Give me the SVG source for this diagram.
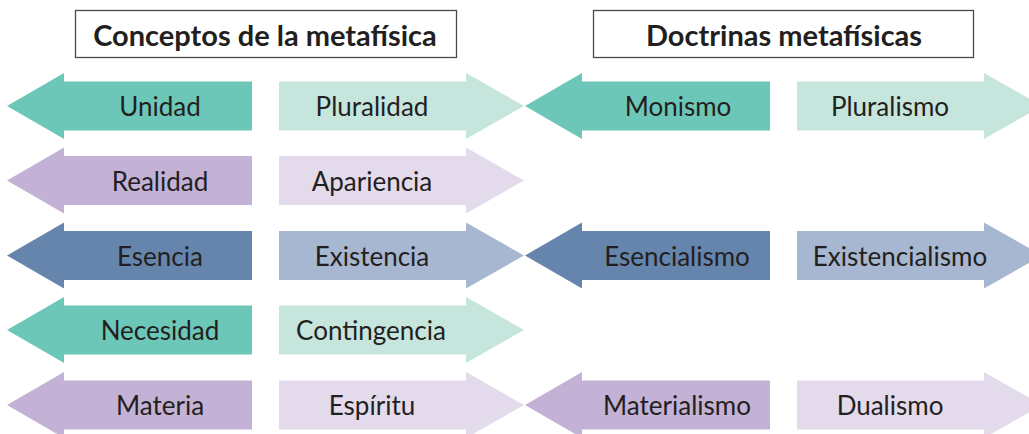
<svg xmlns="http://www.w3.org/2000/svg" width="1029" height="434" viewBox="0 0 1029 434">
<style>
.t{font-family:Lato,"Noto Sans",sans-serif;font-size:26px;fill:#231f20;text-anchor:middle;dominant-baseline:central}
.h{font-family:Lato,"Noto Sans",sans-serif;font-size:29px;font-weight:bold;fill:#231f20;text-anchor:middle;dominant-baseline:central}
.box{fill:#fff;stroke:#4a4a4a;stroke-width:1.3}
.tD{fill:#6dc7b9}.tL{fill:#c5e5dd}
.pD{fill:#c4b1d6}.pL{fill:#e3daec}
.bD{fill:#6585ad}.bL{fill:#a7b7d1}
</style>
<defs>
<path id="la" d="M7,0 L64,-33 L64,-24.5 L252,-24.5 L252,24.5 L64,24.5 L64,33 Z"/>
<path id="ra" d="M0,-24.5 L187,-24.5 L187,-33 L245,0 L187,33 L187,24.5 L0,24.5 Z"/>
</defs>
<g id="hdr1"><rect class="box" x="75.5" y="10.5" width="381" height="47"/><text class="h" x="265" y="34">Conceptos de la metafísica</text></g>
<g id="hdr2"><rect class="box" x="593.5" y="10.5" width="380" height="47"/><text class="h" x="784" y="34">Doctrinas metafísicas</text></g>

<g id="unidad" transform="translate(0,106)"><use href="#la" class="tD"/><text class="t" x="160" y="0">Unidad</text></g>
<g id="pluralidad" transform="translate(279,106)"><use href="#ra" class="tL"/><text class="t" x="93" y="0">Pluralidad</text></g>
<g id="monismo" transform="translate(518,106)"><use href="#la" class="tD"/><text class="t" x="160" y="0">Monismo</text></g>
<g id="pluralismo" transform="translate(797,106)"><use href="#ra" class="tL"/><text class="t" x="93" y="0">Pluralismo</text></g>

<g id="realidad" transform="translate(0,180.5)"><use href="#la" class="pD"/><text class="t" x="160" y="0">Realidad</text></g>
<g id="apariencia" transform="translate(279,180.5)"><use href="#ra" class="pL"/><text class="t" x="93" y="0">Apariencia</text></g>

<g id="esencia" transform="translate(0,255.5)"><use href="#la" class="bD"/><text class="t" x="160" y="0">Esencia</text></g>
<g id="existencia" transform="translate(279,255.5)"><use href="#ra" class="bL"/><text class="t" x="93" y="0">Existencia</text></g>
<g id="esencialismo" transform="translate(518,255.5)"><use href="#la" class="bD"/><text class="t" x="159" y="0">Esencialismo</text></g>
<g id="existencialismo" transform="translate(797,255.5)"><use href="#ra" class="bL"/><text class="t" x="103" y="0">Existencialismo</text></g>

<g id="necesidad" transform="translate(0,330)"><use href="#la" class="tD"/><text class="t" x="160" y="0">Necesidad</text></g>
<g id="contingencia" transform="translate(279,330)"><use href="#ra" class="tL"/><text class="t" x="92" y="0">Contingencia</text></g>

<g id="materia" transform="translate(0,405)"><use href="#la" class="pD"/><text class="t" x="160" y="0">Materia</text></g>
<g id="espiritu" transform="translate(279,405)"><use href="#ra" class="pL"/><text class="t" x="93" y="0">Espíritu</text></g>
<g id="materialismo" transform="translate(518,405)"><use href="#la" class="pD"/><text class="t" x="159" y="0">Materialismo</text></g>
<g id="dualismo" transform="translate(797,405)"><use href="#ra" class="pL"/><text class="t" x="93" y="0">Dualismo</text></g>
<g id="connectors"/>
</svg>
